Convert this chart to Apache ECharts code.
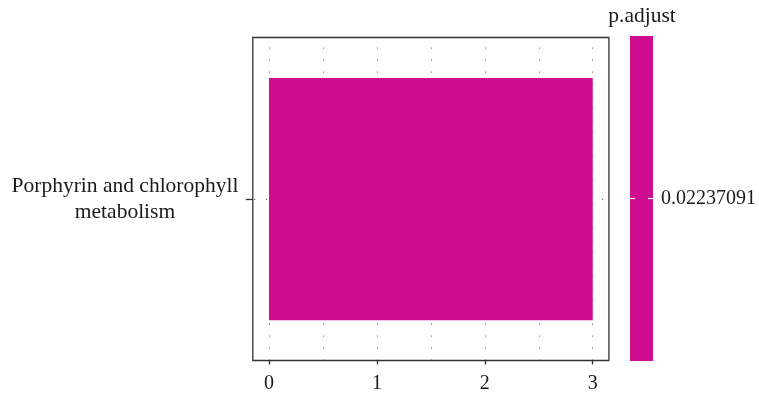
<!DOCTYPE html>
<html>
<head>
<meta charset="utf-8">
<script src="https://cdn.jsdelivr.net/npm/echarts@6/dist/echarts.min.js"></script>
<style>html,body{margin:0;padding:0;background:#fff;}#c{width:759px;height:396px;}</style>
</head>
<body>
<div id="c"></div>
<script>
const categories = ['Porphyrin and chlorophyll\nmetabolism'];
const counts = [3];
const pAdjust = [0.02237091];
const colorbarLabels = ['0.02237091'];
const xTickValues = [0, 1, 2, 3];
const xGridValues = [0, 0.5, 1, 1.5, 2, 2.5, 3];
const yGridValues = [1];

const FONT = 'Liberation Serif';
const BAR_COLOR = '#CD0C8F';
const TEXT_COLOR = '#1a1a1a';
const dottedV = { color: '#2a2a2a', width: 0.7, type: [1.2, 10.8], dashOffset: 2 };
const dottedH = { color: '#2a2a2a', width: 0.7, type: [1.2, 10.8], dashOffset: 10.8 };

const chart = echarts.init(document.getElementById('c'), null, { renderer: 'canvas' });
chart.setOption({
  animation: false,
  backgroundColor: '#fff',
  title: {
    text: 'p.adjust', left: 637, top: 0, textAlign: 'center',
    textStyle: { fontFamily: FONT, fontSize: 21.5, fontWeight: 'normal', color: TEXT_COLOR }
  },
  grid: [
    { left: 252.813, top: 37.5, width: 356.114, height: 323, show: true, borderColor: '#333', borderWidth: 1.3, backgroundColor: 'transparent' },
    { left: 630, top: 36, width: 24, height: 325 }
  ],
  xAxis: [
    {
      gridIndex: 0, type: 'value', min: -0.15, max: 3.15, position: 'bottom',
      axisLine: { show: false, onZero: false },
      axisTick: { show: true, customValues: xTickValues, length: 4, lineStyle: { color: '#333', width: 1.3 } },
      axisLabel: { customValues: xTickValues, fontFamily: FONT, fontSize: 20, color: TEXT_COLOR, margin: 13 },
      splitLine: { show: false }
    },
    {
      gridIndex: 0, type: 'value', min: -0.15, max: 3.15, position: 'bottom',
      axisLine: { show: false, onZero: false },
      axisTick: { show: false, customValues: xGridValues },
      axisLabel: { show: false },
      splitLine: { show: true, lineStyle: dottedV }
    },
    { gridIndex: 1, type: 'value', min: 0, max: 'dataMax', show: false, axisLine: { onZero: false } }
  ],
  yAxis: [
    {
      gridIndex: 0, type: 'category', data: categories, position: 'left',
      axisLine: { show: false, onZero: false },
      axisTick: { show: true, alignWithLabel: true, length: 7, lineStyle: { color: '#333', width: 1.3 } },
      axisLabel: { fontFamily: FONT, fontSize: 21.5, color: TEXT_COLOR, align: 'center', margin: 127.8, lineHeight: 26 },
      splitLine: { show: false }
    },
    {
      gridIndex: 0, type: 'value', min: 0, max: 2, position: 'right',
      axisLine: { show: false, onZero: false },
      axisTick: { show: false, customValues: yGridValues },
      axisLabel: { show: false },
      splitLine: { show: true, lineStyle: dottedH }
    },
    {
      gridIndex: 1, type: 'category', data: colorbarLabels, position: 'right', z: 10,
      axisLine: { show: false, onZero: false },
      axisTick: { show: true, inside: true, alignWithLabel: true, length: 5, lineStyle: { color: '#fff', width: 1.2 } },
      axisLabel: { fontFamily: FONT, fontSize: 20, color: TEXT_COLOR, margin: 8 },
      splitLine: { show: false }
    },
    {
      gridIndex: 1, type: 'category', data: colorbarLabels, position: 'left', z: 10,
      axisLine: { show: false, onZero: false },
      axisTick: { show: true, inside: true, alignWithLabel: true, length: 5, lineStyle: { color: '#fff', width: 1.2 } },
      axisLabel: { show: false },
      splitLine: { show: false }
    }
  ],
  series: [
    {
      type: 'bar', xAxisIndex: 0, yAxisIndex: 0, data: counts, barWidth: '75%',
      itemStyle: { color: BAR_COLOR }, z: 2
    },
    {
      type: 'bar', xAxisIndex: 2, yAxisIndex: 2, data: pAdjust, barWidth: '100%',
      itemStyle: { color: BAR_COLOR }, z: 2
    }
  ]
});
</script>
</body>
</html>
